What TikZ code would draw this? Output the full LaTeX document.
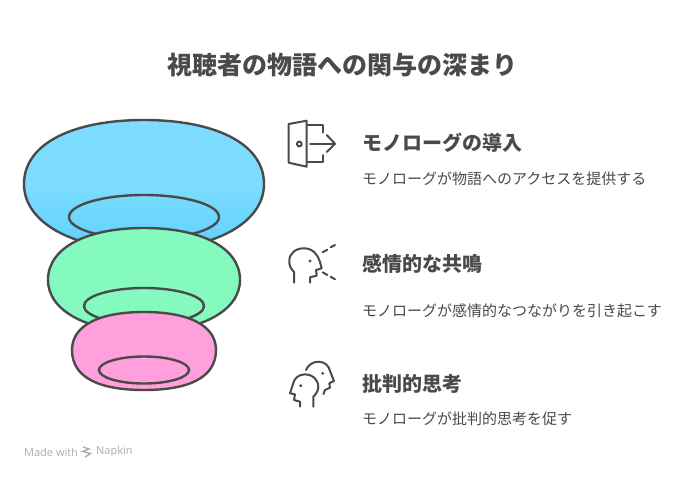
\documentclass[tikz,border=0pt]{standalone}
\usepackage{fontspec}
\usepackage{xcolor}
\setmainfont{Noto Sans CJK JP}
\newfontfamily\logofont{Open Sans}
\definecolor{encre}{HTML}{4A4A4A}
\definecolor{bleu}{HTML}{7DDCFF}
\definecolor{bleufonce}{HTML}{5CD2FF}
\definecolor{vert}{HTML}{85FABF}
\definecolor{rose}{HTML}{FFA0DC}
\usetikzlibrary{calc, positioning}

\begin{document}
\begin{tikzpicture}[x=1pt, y=-1pt]
	\tikzstyle{contour}=[draw=encre,line width=2.4pt]
	\tikzstyle{icone}=[draw=encre,line width=2pt,line cap=round,line join=round]
	\tikzstyle{titre}=[text=encre,font=\bfseries\fontsize{25}{28}\selectfont,inner sep=0pt]
	\tikzstyle{entete}=[text=encre,anchor=west,font=\bfseries\fontsize{20}{24}\selectfont,inner sep=0pt]
	\tikzstyle{detail}=[text=encre,anchor=west,font=\fontsize{15}{18}\selectfont,inner sep=0pt]
	\tikzstyle{logo}=[text=black!32,anchor=west,inner sep=0pt,font=\logofont\fontsize{11}{12}\selectfont]
	\useasboundingbox (0,0) rectangle (685,480);
	\fill[white] (0,0) rectangle (685,480);

	\node[titre] (titre) at (342,65) {視聴者の物語への関与の深まり};

	% blue layer
	\path[contour,top color=bleu,bottom color=bleufonce,middle color=bleu] (144,120) .. controls (214,120) and (264,143) .. (264,184) .. controls (264,224) and (212,250) .. (144,250) .. controls (76,250) and (24,224) .. (24,184) .. controls (24,143) and (74,120) .. (144,120) -- cycle;
	\draw[contour] (144,217) ellipse (75 and 22);

	% green layer
	\fill[vert,contour] (144,228) .. controls (200,228) and (240,247) .. (240,280) .. controls (240,312) and (198,332) .. (144,332) .. controls (90,332) and (48,312) .. (48,280) .. controls (48,247) and (88,228) .. (144,228) -- cycle;
	\draw[contour] (144,306) ellipse (60 and 18);

	% pink layer
	\fill[rose,contour] (144,312) .. controls (188,312) and (216,325) .. (216,350) .. controls (216,378) and (188,390) .. (144,390) .. controls (100,390) and (72,378) .. (72,350) .. controls (72,325) and (100,312) .. (144,312) -- cycle;
	\draw[contour] (144,370) ellipse (45 and 13.5);

	% door
	\draw[icone] (288.7,124) -- (306.7,120.7) -- (306.7,166.7) -- (288.7,162.7) -- cycle;
	\draw[icone] (307,125) -- (323.3,125) -- (323.3,132.7);
	\draw[icone] (307,162.3) -- (323.3,162.3) -- (323.3,155);
	\draw[icone] (310,143.7) -- (335,143.7);
	\draw[icone] (326.7,135) -- (335,143.7) -- (326.7,152);
	\draw[icone] (299.3,144) circle (2.4);

	% head and dashes
	\draw[icone] (294,282.7) -- (294,272) .. controls (290,268) and (289.3,265) .. (289.3,261) .. controls (289.3,253) and (296,248.3) .. (304,248.3) .. controls (313,248.3) and (318,255) .. (320,262) -- (321.7,268.3) -- (316,270) -- (316.7,275.7) -- (310,277.3) -- (310,282.7);
	\fill[encre] (310,261) circle (1.6);
	\draw[icone] (322.7,252.3) -- (327.3,249.7);
	\draw[icone] (330.7,247.3) -- (335,245);
	\draw[icone] (322.7,272.3) -- (327.3,275);
	\draw[icone] (330.7,276.7) -- (335,279.3);

	% two heads
	\draw[icone] (313.3,406.7) -- (313.3,396.7) .. controls (316,394) and (318.3,391) .. (318.3,387) .. controls (318.3,379) and (312,374.3) .. (305,374.3) .. controls (298,374.3) and (294,379) .. (293,384) -- (290,393.3) -- (295,394.3) -- (294,400) -- (300,401.7) -- (300,406.7);
	\fill[encre] (300.7,385.7) circle (1.6);
	\draw[icone] (306,370) .. controls (308,365) and (313,361.7) .. (318.3,361.7) .. controls (325,361.7) and (329,366) .. (330,371) -- (334,381) -- (329.3,383.3) -- (330,387.7) -- (325,390) -- (323.5,394);
	\fill[encre] (322.7,373.3) circle (1.6);

	\node[entete] (intro) at (362,143) {モノローグの導入};
	\node[detail] (introdetail) at (362,179) {モノローグが物語へのアクセスを提供する};
	\node[entete] (echo) at (362,264) {感情的な共鳴};
	\node[detail] (echodetail) at (362,310.5) {モノローグが感情的なつながりを引き起こす};
	\node[entete] (critique) at (362,384) {批判的思考};
	\node[detail] (critiquedetail) at (362,418.5) {モノローグが批判的思考を促す};

	% footer
	\node[logo] (made) at (24,452) {Made with};
	\node[logo] (napkin) at (96,452) {Napkin};
	\draw[draw=black!32,line width=1.4pt] (83,447) -- (89,449) -- (82.5,451.5) -- (90.5,453.5) -- (85,457);
\end{tikzpicture}
\end{document}
